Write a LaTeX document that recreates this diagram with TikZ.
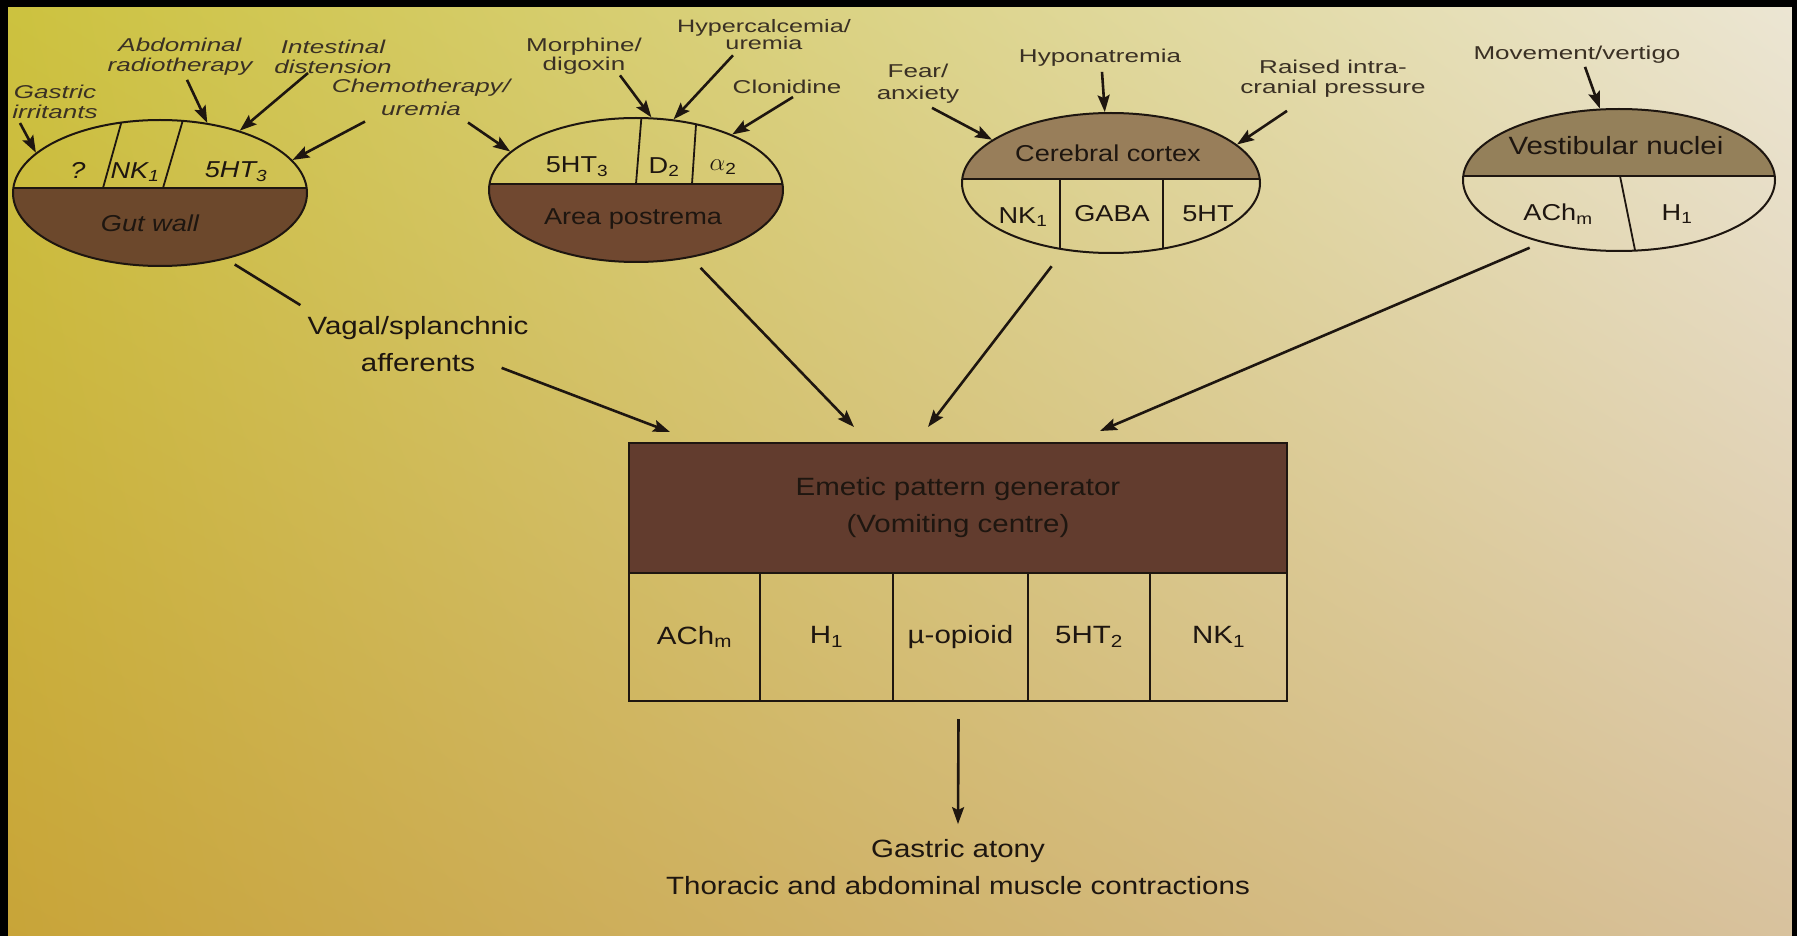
\documentclass[tikz,border=0pt]{standalone}
\usepackage{fontspec}
\setmainfont[FakeStretch=1.18]{Liberation Sans}
\newfontfamily\noteFont[FakeStretch=1.4]{Liberation Sans}
\usetikzlibrary{arrows.meta,positioning,shapes.geometric,shadings}

\definecolor{inkDark}{RGB}{30,22,16}
\definecolor{noteInk}{RGB}{58,48,36}
\definecolor{gutFill}{RGB}{108,72,44}
\definecolor{apFill}{RGB}{112,72,48}
\definecolor{ccFill}{RGB}{152,126,90}
\definecolor{vnFill}{RGB}{148,128,90}
\definecolor{boxFill}{RGB}{98,60,46}
\definecolor{bgUL}{RGB}{204,194,62}
\definecolor{bgUR}{RGB}{236,230,212}
\definecolor{bgLL}{RGB}{200,164,56}
\definecolor{bgLR}{RGB}{216,194,158}

\begin{document}
\begin{tikzpicture}[x=1pt, y=-1pt,
    organ/.style={ellipse, draw=inkDark, line width=2pt, inner sep=0pt},
    divider/.style={draw=inkDark, line width=1.8pt},
    arr/.style={draw=inkDark, line width=2.6pt, -{Stealth[length=17pt, width=12pt, inset=3pt]}},
    plain/.style={draw=inkDark, line width=2.6pt},
    note/.style={text=noteInk, align=center, inner sep=1pt, font=\noteFont\fontsize{18.6}{20}\selectfont},
    inote/.style={note, font=\noteFont\fontsize{18.6}{20}\selectfont\itshape},
    recep/.style={text=inkDark, inner sep=1pt, font=\fontsize{23}{27}\selectfont},
    cell/.style={draw=inkDark, line width=2pt, minimum height=128pt, inner sep=0pt, outer sep=0pt,
      text=inkDark, font=\fontsize{25}{29}\selectfont}
  ]

  \useasboundingbox (0,0) rectangle (1797,936);
  \shade[upper left=bgUL, upper right=bgUR, lower left=bgLL, lower right=bgLR] (0,0) rectangle (1797,936);

  \node[organ, minimum width=294pt, minimum height=146pt, path picture={
      \fill[gutFill] ([yshift=5pt]path picture bounding box.west) rectangle (path picture bounding box.south east);
      \draw[divider] ([yshift=5pt]path picture bounding box.west) -- ([yshift=5pt]path picture bounding box.east);
      \draw[divider] ([xshift=-57pt,yshift=5pt]path picture bounding box.center) -- ([xshift=-36pt,yshift=80pt]path picture bounding box.center);
      \draw[divider] ([xshift=3pt,yshift=5pt]path picture bounding box.center) -- ([xshift=25pt,yshift=80pt]path picture bounding box.center);
    }] (gut) at (160,193) {};
  \node[organ, minimum width=294pt, minimum height=144pt, path picture={
      \fill[apFill] ([yshift=6pt]path picture bounding box.west) rectangle (path picture bounding box.south east);
      \draw[divider] ([yshift=6pt]path picture bounding box.west) -- ([yshift=6pt]path picture bounding box.east);
      \draw[divider] ([xshift=0pt,yshift=6pt]path picture bounding box.center) -- ([xshift=6pt,yshift=80pt]path picture bounding box.center);
      \draw[divider] ([xshift=56pt,yshift=6pt]path picture bounding box.center) -- ([xshift=61pt,yshift=80pt]path picture bounding box.center);
    }] (ap) at (636,190) {};
  \node[organ, minimum width=298pt, minimum height=140pt, path picture={
      \fill[ccFill] (path picture bounding box.north west) rectangle ([yshift=4pt]path picture bounding box.east);
      \draw[divider] ([yshift=4pt]path picture bounding box.west) -- ([yshift=4pt]path picture bounding box.east);
      \draw[divider] ([xshift=-51pt,yshift=4pt]path picture bounding box.center) -- ([xshift=-51pt,yshift=-80pt]path picture bounding box.center);
      \draw[divider] ([xshift=52pt,yshift=4pt]path picture bounding box.center) -- ([xshift=52pt,yshift=-80pt]path picture bounding box.center);
    }] (cc) at (1111,183) {};
  \node[organ, minimum width=312pt, minimum height=142pt, path picture={
      \fill[vnFill] (path picture bounding box.north west) rectangle ([yshift=4pt]path picture bounding box.east);
      \draw[divider] ([yshift=4pt]path picture bounding box.west) -- ([yshift=4pt]path picture bounding box.east);
      \draw[divider] ([xshift=1pt,yshift=4pt]path picture bounding box.center) -- ([xshift=18pt,yshift=-80pt]path picture bounding box.center);
    }] (vn) at (1619,180) {};

  \node[recep, font=\fontsize{23}{27}\selectfont\itshape] (gutQ) at (78,170) {?};
  \node[recep, font=\fontsize{23}{27}\selectfont\itshape] (gutNK) at (135,172) {NK\textsubscript{1}};
  \node[recep, font=\fontsize{23}{27}\selectfont\itshape] (gutHT) at (236,172) {5HT\textsubscript{3}};
  \node[recep, font=\fontsize{23}{27}\selectfont\itshape] (gutName) at (150,223) {Gut wall};

  \node[recep] (apHT) at (577,167) {5HT\textsubscript{3}};
  \node[recep] (apD) at (664,167) {D\textsubscript{2}};
  \node[recep] (apAlpha) at (723,167) {$\alpha$\textsubscript{2}};
  \node[recep] (apName) at (633,219) {Area postrema};

  \node[recep] (ccName) at (1108,153) {Cerebral cortex};
  \node[recep] (ccNK) at (1023,217) {NK\textsubscript{1}};
  \node[recep] (ccGaba) at (1112,214) {GABA};
  \node[recep] (ccHT) at (1208,214) {5HT};

  \node[recep, font=\fontsize{25}{29}\selectfont] (vnName) at (1616,146) {Vestibular nuclei};
  \node[recep] (vnACh) at (1558,214) {ACh\textsubscript{m}};
  \node[recep] (vnH) at (1677,214) {H\textsubscript{1}};

  \node[inote] (gastric) at (55,102) {Gastric\\irritants};
  \node[inote] (abdo) at (180,57) {Abdominal\\radiotherapy};
  \node[inote] (intest) at (333,57) {Intestinal\\distension};
  \node[inote, font=\noteFont\fontsize{18.6}{23}\selectfont\itshape] (chemo) at (421,97) {Chemotherapy/\\uremia};
  \node[note, font=\noteFont\fontsize{18.6}{19}\selectfont] (morph) at (584,56) {Morphine/\\digoxin};
  \node[note, font=\noteFont\fontsize{18}{17}\selectfont] (hypercal) at (764,35) {Hypercalcemia/\\uremia};
  \node[note] (clon) at (787,87) {Clonidine};
  \node[note, font=\noteFont\fontsize{18.6}{22}\selectfont] (fear) at (918,84) {Fear/\\anxiety};
  \node[note] (hypo) at (1100,58) {Hyponatremia};
  \node[note] (raised) at (1333,79) {Raised intra-\\cranial pressure};
  \node[note] (movem) at (1577,55) {Movement/vertigo};

  \draw[arr] ([xshift=-35pt,yshift=-3pt]gastric.south) -- (gut.162);
  \draw[arr] ([xshift=7pt,yshift=-3pt]abdo.south) -- (gut.56);
  \draw[arr] ([xshift=-25pt,yshift=2pt]intest.south) -- (gut.38);
  \draw[arr] ([xshift=-56pt,yshift=-5pt]chemo.south) -- (gut.14);
  \draw[arr] ([xshift=47pt,yshift=-6pt]chemo.south) -- (ap.163);
  \draw[arr] ([xshift=36pt,yshift=0pt]morph.south) -- (ap.78);
  \draw[arr] ([xshift=-31pt,yshift=-4pt]hypercal.south) -- (ap.62);
  \draw[arr] ([xshift=6pt,yshift=-2pt]clon.south) -- (ap.30);
  \draw[arr] ([xshift=14pt,yshift=-3pt]fear.south) -- (cc.160);
  \draw[arr] ([xshift=2pt,yshift=-4pt]hypo.south) -- (cc.95);
  \draw[arr] ([xshift=-46pt,yshift=-12pt]raised.south) -- (cc.17);
  \draw[arr] ([xshift=8pt,yshift=-2pt]movem.south) -- (vn.105);

  \node[cell, fill=boxFill, minimum width=658pt, minimum height=130pt, align=center,
    font=\fontsize{25}{37}\selectfont] (epg) at (958,508) {Emetic pattern generator\\(Vomiting centre)};
  \node[cell, minimum width=131pt, anchor=north west] (c1) at (epg.south west) {ACh\textsubscript{m}};
  \node[cell, minimum width=133pt, right=0pt of c1] (c2) {H\textsubscript{1}};
  \node[cell, minimum width=135pt, right=0pt of c2] (c3) {µ-opioid};
  \node[cell, minimum width=122pt, right=0pt of c3] (c4) {5HT\textsubscript{2}};
  \node[cell, minimum width=137pt, right=0pt of c4] (c5) {NK\textsubscript{1}};

  \node[recep, align=center, font=\fontsize{25}{37}\selectfont] (vagal) at (418,344) {Vagal/splanchnic\\afferents};
  \node[recep, align=center, font=\fontsize{25}{37}\selectfont] (result) at (958,867) {Gastric atony\\Thoracic and abdominal muscle contractions};

  \draw[plain, shorten <=10pt] (gut.-45) -- ([xshift=-6pt,yshift=10pt]vagal.north west);
  \draw[arr] ([xshift=-28pt,yshift=5pt]vagal.south east) -- ([xshift=41pt,yshift=11pt]epg.north west);
  \draw[arr, shorten <=14pt] (ap.-51) -- ([xshift=225pt,yshift=16pt]epg.north west);
  \draw[arr, shorten <=20pt] (cc.-125) -- ([xshift=299pt,yshift=16pt]epg.north west);
  \draw[arr, shorten <=13pt] (vn.-141) -- ([xshift=471pt,yshift=12pt]epg.north west);
  \draw[arr] ([xshift=-2pt,yshift=-18pt]c3.south) -- ([yshift=14pt]result.north);

  \fill[black] (0,0) rectangle (1797,7);
  \fill[black] (0,0) rectangle (8,936);
  \fill[black] (1792,0) rectangle (1797,936);

\end{tikzpicture}
\end{document}
